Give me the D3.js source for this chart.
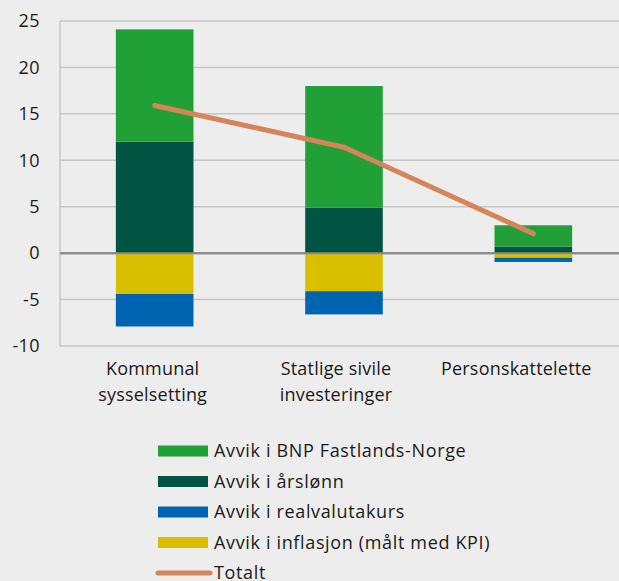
<!DOCTYPE html>
<html>
<head>
<meta charset="utf-8">
<script src="https://cdn.jsdelivr.net/npm/d3@7"></script>
<style>
  body { margin: 0; background: #ededed; }
  svg { display: block; font-family: "Open Sans", "Noto Sans", sans-serif; }
</style>
</head>
<body>
<div id="chart"></div>
<script>
// data
var categories = ["Kommunal sysselsetting", "Statlige sivile investeringer", "Personskattelette"];
var catLines = [["Kommunal", "sysselsetting"], ["Statlige sivile", "investeringer"], ["Personskattelette"]];
var bnp = [12.1, 13.1, 2.3];
var arslonn = [12.0, 4.9, 0.7];
var realvaluta = [-3.5, -2.5, -0.45];
var inflasjon = [-4.4, -4.1, -0.5];
var totalt = [15.9, 11.4, 2.1];
var yTicks = [-10, -5, 0, 5, 10, 15, 20, 25];

var W = 619, H = 581;
var margin = {top: 21, left: 60, bottom: 235};
var plotRight = 628;
// labels sit a little left of the bar centres in the original
var labelShift = [-2, -8, -17];

var svg = d3.select('#chart')
    .append('svg')
    .attr('width', W)
    .attr('height', H);

svg.append('rect').attr('width', W).attr('height', H).attr('fill', '#ededed');

var x = d3.scaleBand()
    .domain(categories)
    .range([margin.left, plotRight])
    .paddingInner(0.59)
    .paddingOuter(0.295);

var y = d3.scaleLinear()
    .domain([-10, 25])
    .range([H - margin.bottom, margin.top]);

// grid
svg.append('g').selectAll('line')
    .data(yTicks)
    .enter().append('line')
    .attr('x1', margin.left).attr('x2', plotRight)
    .attr('y1', function(d){ return y(d); })
    .attr('y2', function(d){ return y(d); })
    .attr('stroke', function(d){ return d === 0 ? '#8a8a8a' : '#c6c6c6'; })
    .attr('stroke-width', function(d){ return d === 0 ? 2 : 1.5; });

svg.append('line')
    .attr('x1', margin.left).attr('x2', margin.left)
    .attr('y1', y(25)).attr('y2', y(-10))
    .attr('stroke', '#c6c6c6').attr('stroke-width', 1.5);

// y labels
svg.append('g').selectAll('text')
    .data(yTicks)
    .enter().append('text')
    .attr('x', 40)
    .attr('y', function(d){ return y(d); })
    .attr('dy', '0.35em')
    .attr('text-anchor', 'end')
    .attr('font-size', 18)
    .attr('letter-spacing', 0.4)
    .attr('fill', '#1a1a1a')
    .text(function(d){ return d; });

// stacked bars
var series = [
    {name: "Avvik i årslønn", values: arslonn, color: "#005441"},
    {name: "Avvik i BNP Fastlands-Norge", values: bnp, color: "#21a038"},
    {name: "Avvik i inflasjon (målt med KPI)", values: inflasjon, color: "#d8bf00"},
    {name: "Avvik i realvalutakurs", values: realvaluta, color: "#0064b0"}
];

var posBase = [0, 0, 0], negBase = [0, 0, 0];
series.forEach(function(s){
    var rects = [];
    s.values.forEach(function(v, i){
        var y0, y1;
        if (v >= 0) { y0 = posBase[i]; y1 = y0 + v; posBase[i] = y1; }
        else { y0 = negBase[i]; y1 = y0 + v; negBase[i] = y1; }
        rects.push({cat: categories[i], y0: y0, y1: y1});
    });
    svg.append('g').selectAll('rect')
        .data(rects)
        .enter().append('rect')
        .attr('x', function(d){ return x(d.cat); })
        .attr('width', x.bandwidth())
        .attr('y', function(d){ return y(Math.max(d.y0, d.y1)); })
        .attr('height', function(d){ return Math.abs(y(d.y0) - y(d.y1)); })
        .attr('fill', s.color);
});

// zero line over bars
svg.append('line')
    .attr('x1', margin.left).attr('x2', plotRight)
    .attr('y1', y(0)).attr('y2', y(0))
    .attr('stroke', '#8a8a8a').attr('stroke-width', 2);

// total line
var line = d3.line()
    .x(function(d, i){ return x(categories[i]) + x.bandwidth() / 2; })
    .y(function(d){ return y(d); });

svg.append('path')
    .datum(totalt)
    .attr('d', line)
    .attr('fill', 'none')
    .attr('stroke', '#d6845a')
    .attr('stroke-width', 5)
    .attr('stroke-linecap', 'round')
    .attr('stroke-linejoin', 'round');

// category labels
var catG = svg.append('g').selectAll('text')
    .data(categories)
    .enter().append('text')
    .attr('text-anchor', 'middle')
    .attr('font-size', 18)
    .attr('letter-spacing', 0.2)
    .attr('fill', '#1a1a1a');
catG.each(function(d, i){
    var t = d3.select(this);
    catLines[i].forEach(function(l, j){
        t.append('tspan')
            .attr('x', x(d) + x.bandwidth() / 2 + labelShift[i])
            .attr('y', 375 + j * 26)
            .text(l);
    });
});

// legend
var legendItems = [
    {name: "Avvik i BNP Fastlands-Norge", color: "#21a038", type: "rect"},
    {name: "Avvik i årslønn", color: "#005441", type: "rect"},
    {name: "Avvik i realvalutakurs", color: "#0064b0", type: "rect"},
    {name: "Avvik i inflasjon (målt med KPI)", color: "#d8bf00", type: "rect"},
    {name: "Totalt", color: "#d6845a", type: "line"}
];

var lg = svg.append('g').selectAll('g')
    .data(legendItems)
    .enter().append('g')
    .attr('transform', function(d, i){ return 'translate(0,' + (451 + i * 30.5) + ')'; });

lg.filter(function(d){ return d.type === 'rect'; })
    .append('rect')
    .attr('x', 158).attr('y', -5.5)
    .attr('width', 50).attr('height', 11)
    .attr('fill', function(d){ return d.color; });

lg.filter(function(d){ return d.type === 'line'; })
    .append('line')
    .attr('x1', 158).attr('x2', 210)
    .attr('y1', 0).attr('y2', 0)
    .attr('stroke', function(d){ return d.color; })
    .attr('stroke-width', 5)
    .attr('stroke-linecap', 'round');

lg.append('text')
    .attr('x', 214)
    .attr('y', 0)
    .attr('dy', '0.35em')
    .attr('font-size', 18)
    .attr('letter-spacing', 0.65)
    .attr('fill', '#1a1a1a')
    .text(function(d){ return d.name; });
</script>
</body>
</html>
